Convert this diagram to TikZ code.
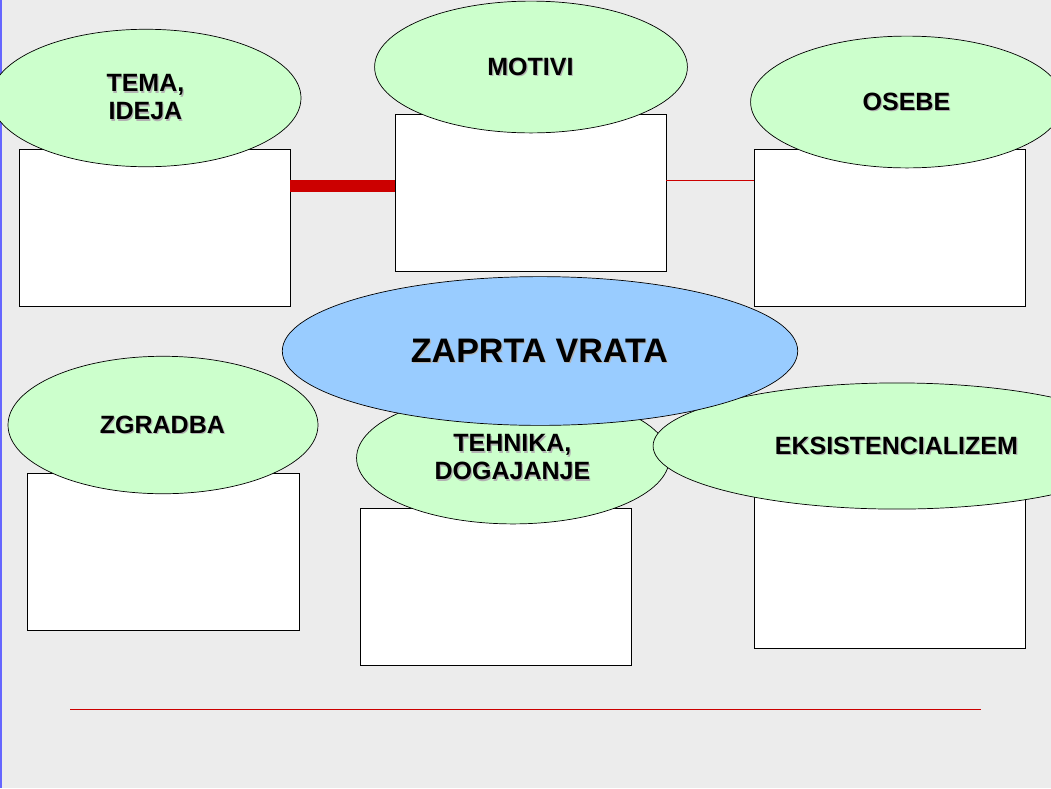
\documentclass[tikz,border=0pt]{standalone}
\usepackage{fontspec}
\setmainfont{Liberation Sans}
\usetikzlibrary{shapes.geometric}
\definecolor{bg}{RGB}{236,236,236}
\definecolor{lgreen}{RGB}{204,255,204}
\definecolor{lblue}{RGB}{153,204,255}
\definecolor{dred}{RGB}{204,0,0}
\newcommand{\shtext}[1]{\tikz[baseline=(t.base)]{\node[inner sep=0pt,text=gray!60,align=center] at (1.2pt,-1.2pt) {#1};\node[inner sep=0pt,align=center] (t) at (0,0) {#1};}}
\begin{document}
\begin{tikzpicture}[x=1pt,y=-1pt,
  box/.style={draw=black,fill=white,line width=0.7pt},
  lab/.style={ellipse,draw=black,fill=lgreen,line width=0.7pt,inner sep=0pt,align=center,font=\bfseries\fontsize{25}{28}\selectfont},
  rline/.style={draw=dred,line width=0.8pt}]
\fill[bg] (0,0) rectangle (1051,788);
\useasboundingbox (0,0) rectangle (1051,788);
\draw[blue!60,line width=1.5pt] (0.75,0) -- (0.75,788);
% boxes
\draw[box] (19,149) rectangle (290,306);
\coordinate (b1r) at (290,186);
\draw[box] (395,114) rectangle (666,271);
\coordinate (b2l) at (395,186);
\coordinate (b2r) at (666,180);
\draw[box] (754,149) rectangle (1025,306);
\coordinate (b3l) at (754,180);
\draw[box] (27,473) rectangle (299,630);
\draw[box] (360,508) rectangle (631,665);
\draw[box] (754,490) rectangle (1025,648);
\draw[draw=dred,line width=12pt] (b1r) -- (b2l);
\draw[rline] (b2r) -- (b3l);
\coordinate (l1) at (70,709); \coordinate (l2) at (981,709);
\draw[rline] (l1) -- (l2);
% labels
\node[lab,minimum width=218,minimum height=96] (tema) at (146,98) {\shtext{TEMA,\\IDEJA}};
\node[lab,minimum width=220,minimum height=92] (motivi) at (531,67) {\shtext{MOTIVI}};
\node[lab,minimum width=220,minimum height=92] (osebe) at (907,102) {\shtext{OSEBE}};
\node[lab,minimum width=218,minimum height=96] (zgr) at (163,425) {\shtext{ZGRADBA}};
\node[lab,minimum width=218,minimum height=92] (teh) at (513,458) {\shtext{TEHNIKA,\\DOGAJANJE}};
\node[lab,minimum width=274,minimum height=88] (eks) at (897,446) {\shtext{EKSISTENCIALIZEM}};
\node[lab,fill=lblue,minimum width=360,minimum height=104,font=\bfseries\fontsize{34}{38}\selectfont] (main) at (540,351) {\shtext{ZAPRTA VRATA}};
\end{tikzpicture}
\end{document}
